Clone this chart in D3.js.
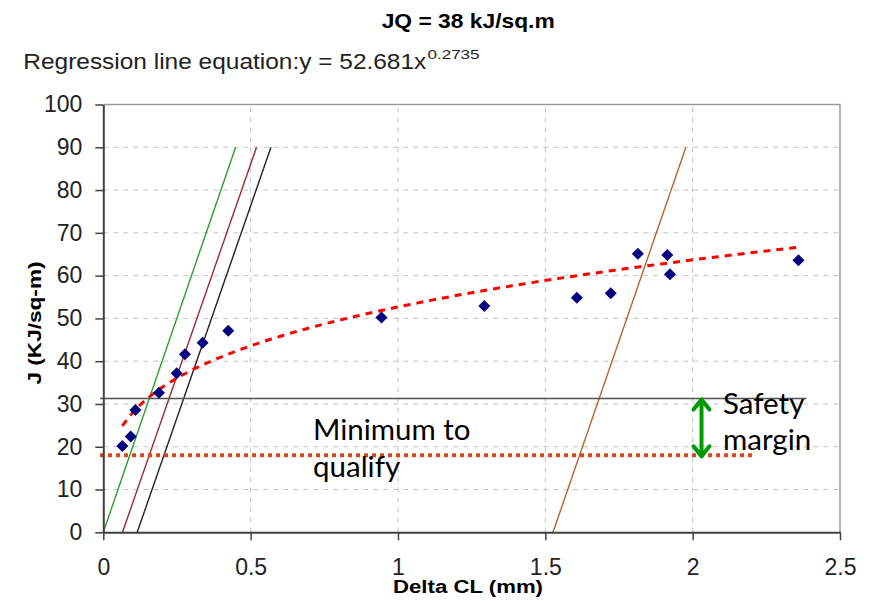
<!DOCTYPE html>
<html>
<head>
<meta charset="utf-8">
<script src="https://cdn.jsdelivr.net/npm/d3@7"></script>
<style>
  html, body { margin: 0; padding: 0; background: #fff; }
  svg { display: block; }
</style>
</head>
<body>
<svg id="chart" width="870" height="601"></svg>
<script>
// data
const deltaCL = [0.0645, 0.093, 0.109, 0.189, 0.249, 0.277, 0.337, 0.424, 0.944, 1.293, 1.607, 1.722, 1.814, 1.914, 1.923, 2.359];
const jValues = [20.2, 22.4, 28.6, 32.6, 37.2, 41.6, 44.3, 47.1, 50.2, 52.9, 54.8, 55.9, 65.1, 64.8, 60.3, 63.6];

// regression shown on the chart: y = a * x^b
const trendA = 52.681;
const trendB = 0.2735;

// construction lines (blunting line and offsets): [x at J=0, x at J=90]
const constructionNames = ['blunting', 'offset1', 'offset2', 'offset3'];
const constructionStart = [0, 0.065, 0.115, 1.526];
const constructionEnd = [0.449, 0.520, 0.569, 1.977];
const constructionColors = ['#2ca02c', '#9b2d2d', '#222222', '#b8642c'];

const jqLevel = 31.3;      // black horizontal line
const minQualify = 18;     // dotted orange line
const lineStartX = -0.011;
const jqLineEnd = 2.386;
const minLineEnd = 2.204;
const arrowX = 2.03;

const xTicks = [0, 0.5, 1, 1.5, 2, 2.5];
const yTicks = [0, 10, 20, 30, 40, 50, 60, 70, 80, 90, 100];

const svg = d3.select('#chart');
const x = d3.scaleLinear().domain([0, 2.5]).range([103.3, 840]);
const y = d3.scaleLinear().domain([0, 100]).range([532.3, 104.5]);

// gridlines
svg.append('g').selectAll('line')
  .data(yTicks.filter(d => d > 0 && d < 100))
  .join('line')
  .attr('x1', x(0)).attr('x2', x(2.5))
  .attr('y1', d => y(d)).attr('y2', d => y(d))
  .attr('stroke', '#c4c4c4').attr('stroke-width', 1).attr('stroke-dasharray', '5,5');

svg.append('g').selectAll('line')
  .data(xTicks.filter(d => d > 0 && d < 2.5))
  .join('line')
  .attr('x1', d => x(d)).attr('x2', d => x(d))
  .attr('y1', y(0)).attr('y2', y(100))
  .attr('stroke', '#c4c4c4').attr('stroke-width', 1).attr('stroke-dasharray', '5,5');

// plot border (top and right)
svg.append('path')
  .attr('d', `M${x(0)},${y(100)}H${x(2.5)}V${y(0)}`)
  .attr('fill', 'none').attr('stroke', '#9a9a9a').attr('stroke-width', 1.5);

// construction lines
svg.append('g').selectAll('line')
  .data(constructionNames)
  .join('line')
  .attr('x1', (d, i) => x(constructionStart[i]))
  .attr('y1', y(0))
  .attr('x2', (d, i) => x(constructionEnd[i]))
  .attr('y2', y(90))
  .attr('stroke', (d, i) => constructionColors[i])
  .attr('stroke-width', 1.4);

// JQ level
svg.append('line')
  .attr('x1', x(lineStartX)).attr('x2', x(jqLineEnd))
  .attr('y1', y(jqLevel)).attr('y2', y(jqLevel))
  .attr('stroke', '#505050').attr('stroke-width', 1.5);

// minimum to qualify
svg.append('line')
  .attr('x1', x(lineStartX)).attr('x2', x(minLineEnd))
  .attr('y1', y(minQualify)).attr('y2', y(minQualify))
  .attr('stroke', '#d4481a').attr('stroke-width', 4).attr('stroke-dasharray', '4,4');

// regression curve over the data range
const xMin = d3.min(deltaCL), xMax = d3.max(deltaCL);
const trendX = d3.range(60).map(i => xMin + (xMax - xMin) * i / 59);
svg.append('path')
  .datum(trendX)
  .attr('d', d3.line().x(d => x(d)).y(d => y(trendA * Math.pow(d, trendB))))
  .attr('fill', 'none').attr('stroke', '#ff0000').attr('stroke-width', 3).attr('stroke-dasharray', '7,6');

// data points
svg.append('g').selectAll('path')
  .data(deltaCL)
  .join('path')
  .attr('d', d3.symbol(d3.symbolSquare, 72))
  .attr('transform', (d, i) => `translate(${x(d)},${y(jValues[i])}) rotate(45)`)
  .attr('fill', '#000080');

// axes
const yAxis = svg.append('g')
  .attr('transform', `translate(${x(0)},0)`)
  .call(d3.axisLeft(y).tickValues(yTicks).tickSize(8).tickSizeOuter(0).tickPadding(13).tickFormat(d => d));
const xAxis = svg.append('g')
  .attr('transform', `translate(0,${y(0)})`)
  .call(d3.axisBottom(x).tickValues(xTicks).tickSize(8).tickSizeOuter(0).tickPadding(18).tickFormat(d => d));

[yAxis, xAxis].forEach(g => {
  g.select('.domain').attr('stroke', '#404040').attr('stroke-width', 2);
  g.selectAll('.tick line').attr('stroke', '#404040').attr('stroke-width', 1.5);
  g.selectAll('.tick text')
    .attr('fill', '#222')
    .attr('font-family', 'Liberation Sans, Arial, sans-serif')
    .attr('font-size', 23);
});

// safety margin arrow
const ax = x(arrowX), aTop = y(jqLevel) + 1, aBot = y(minQualify) + 1;
svg.append('path')
  .attr('d', `M${ax},${aTop}V${aBot}M${ax - 8},${aTop + 10}L${ax},${aTop}L${ax + 8},${aTop + 10}M${ax - 8},${aBot - 10}L${ax},${aBot}L${ax + 8},${aBot - 10}`)
  .attr('fill', 'none').attr('stroke', '#009a00').attr('stroke-width', 4)
  .attr('stroke-linecap', 'round').attr('stroke-linejoin', 'round');

// texts
const arial = 'Liberation Sans, Arial, sans-serif';
svg.append('text')
  .attr('x', 381.7).attr('y', 28)
  .attr('font-family', arial).attr('font-weight', 'bold').attr('font-size', 21)
  .attr('textLength', 173).attr('lengthAdjust', 'spacingAndGlyphs')
  .text('JQ = 38 kJ/sq.m');

svg.append('text')
  .attr('x', 23.3).attr('y', 69.3)
  .attr('font-family', arial).attr('font-size', 22).attr('fill', '#222')
  .attr('textLength', 403).attr('lengthAdjust', 'spacingAndGlyphs')
  .text('Regression line equation:y = 52.681x');
svg.append('text')
  .attr('x', 427.5).attr('y', 59)
  .attr('font-family', arial).attr('font-size', 13.5).attr('fill', '#222')
  .attr('textLength', 52).attr('lengthAdjust', 'spacingAndGlyphs')
  .text('0.2735');

svg.append('text')
  .attr('x', 393).attr('y', 593)
  .attr('font-family', arial).attr('font-weight', 'bold').attr('font-size', 18)
  .attr('textLength', 150).attr('lengthAdjust', 'spacingAndGlyphs')
  .text('Delta CL (mm)');

svg.append('text')
  .attr('transform', 'translate(41,323) rotate(-90)')
  .attr('text-anchor', 'middle')
  .attr('font-family', arial).attr('font-weight', 'bold').attr('font-size', 18)
  .attr('textLength', 123).attr('lengthAdjust', 'spacingAndGlyphs')
  .text('J (KJ/sq-m)');

const calibri = 'Lato, Open Sans, sans-serif';
[['Minimum to', 313, 440], ['qualify', 313, 477], ['Safety', 723, 414], ['margin', 723, 450]].forEach(([t, tx, ty]) => {
  svg.append('text')
    .attr('x', tx).attr('y', ty)
    .attr('font-family', calibri).attr('font-size', 29.5).attr('fill', '#000')
    .text(t);
});
</script>
</body>
</html>
